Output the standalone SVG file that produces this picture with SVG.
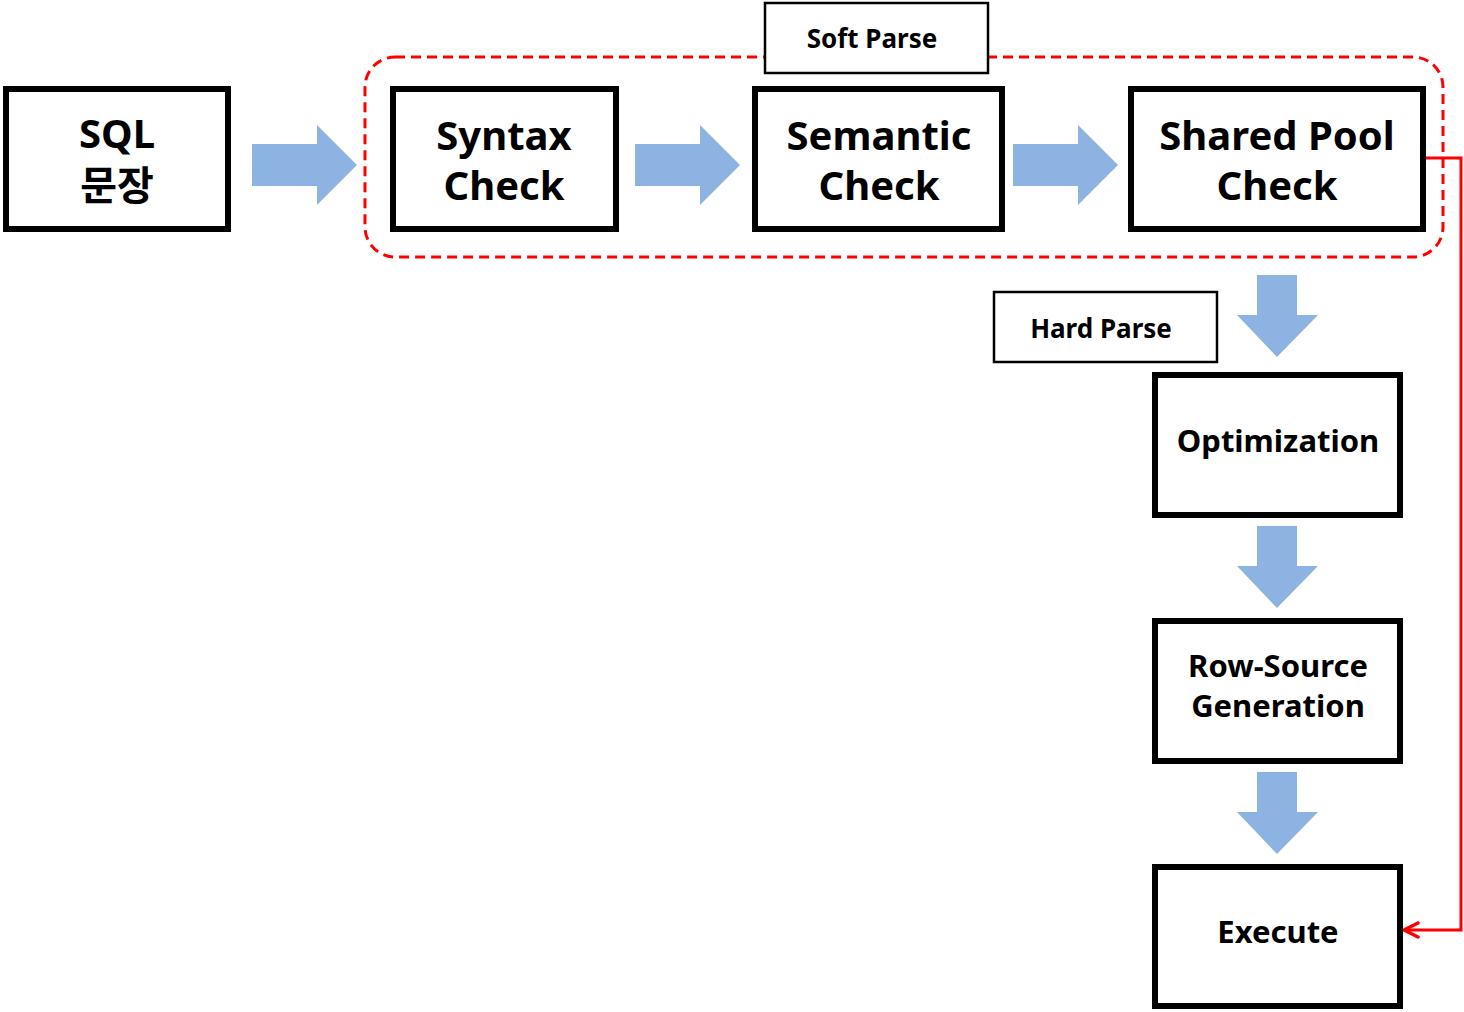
<svg xmlns="http://www.w3.org/2000/svg" width="1464" height="1012" viewBox="0 0 1464 1012">
<defs>
<style>
.box{fill:#fff;stroke:#000;stroke-width:6;}
.lbl{fill:#fff;stroke:#000;stroke-width:2.5;}
.big{font-family:"Noto Sans","Noto Sans CJK KR",sans-serif;font-weight:bold;font-size:40px;text-anchor:middle;fill:#000;}
.mid{font-family:"Noto Sans","Noto Sans CJK KR",sans-serif;font-weight:bold;font-size:31px;text-anchor:middle;fill:#000;}
.sm{font-family:"Noto Sans","Noto Sans CJK KR",sans-serif;font-weight:bold;font-size:26px;text-anchor:middle;fill:#000;}
.arr{fill:#8db3e2;}
</style>
<marker id="open" viewBox="0 0 20 20" refX="18" refY="10" markerWidth="20" markerHeight="20" markerUnits="userSpaceOnUse" orient="auto">
<path d="M4,3 L18,10 L4,17" fill="none" stroke="#ff0000" stroke-width="3.5" stroke-linecap="round" stroke-linejoin="round"/>
</marker>
</defs>
<rect width="1464" height="1012" fill="#fff"/>
<g id="softparse-region">
<rect x="365" y="57" width="1078" height="200" rx="30" fill="none" stroke="#ff0000" stroke-width="3" stroke-dasharray="10,6"/>
</g>
<g id="connectors">
<polygon class="arr" points="252,144 317,144 317,125 357,165 317,205 317,186 252,186"/>
<polygon class="arr" points="635,144 700,144 700,125 740,165 700,205 700,186 635,186"/>
<polygon class="arr" points="1013,144 1078,144 1078,125 1118,165 1078,205 1078,186 1013,186"/>
<polygon class="arr" points="1257,275 1297,275 1297,315 1318,315 1277,357 1237,315 1257,315"/>
<polygon class="arr" points="1257,526 1297,526 1297,566 1318,566 1277,608 1237,566 1257,566"/>
<polygon class="arr" points="1257,772 1297,772 1297,812 1318,812 1277,854 1237,812 1257,812"/>
<polyline points="1423,158 1461,158 1461,930 1404,930" fill="none" stroke="#ff0000" stroke-width="3" marker-end="url(#open)"/>
</g>
<g id="node-sql">
<rect class="box" x="6" y="89" width="222" height="140"/>
<text class="big" x="117" y="148">SQL</text>
<text class="big" x="117" y="200" font-size="38">문장</text>
</g>
<g id="node-syntax">
<rect class="box" x="393" y="89" width="223" height="140"/>
<text class="big" x="504" y="150">Syntax</text>
<text class="big" x="504" y="200">Check</text>
</g>
<g id="node-semantic">
<rect class="box" x="755" y="89" width="247" height="140"/>
<text class="big" x="879" y="150">Semantic</text>
<text class="big" x="879" y="200">Check</text>
</g>
<g id="node-sharedpool">
<rect class="box" x="1131" y="89" width="292" height="140"/>
<text class="big" x="1277" y="150">Shared Pool</text>
<text class="big" x="1277" y="200">Check</text>
</g>
<g id="label-soft">
<rect class="lbl" x="765" y="3" width="223" height="70"/>
<text class="sm" x="872" y="48">Soft Parse</text>
</g>
<g id="label-hard">
<rect class="lbl" x="994" y="292" width="223" height="70"/>
<text class="sm" x="1101" y="338">Hard Parse</text>
</g>
<g id="node-optimization">
<rect class="box" x="1155" y="375" width="245" height="140"/>
<text class="mid" x="1278" y="452">Optimization</text>
</g>
<g id="node-rowsource">
<rect class="box" x="1155" y="621" width="245" height="140"/>
<text class="mid" x="1278" y="677">Row-Source</text>
<text class="mid" x="1278" y="717">Generation</text>
</g>
<g id="node-execute">
<rect class="box" x="1155" y="867" width="245" height="139"/>
<text class="mid" x="1278" y="943">Execute</text>
</g>
</svg>
